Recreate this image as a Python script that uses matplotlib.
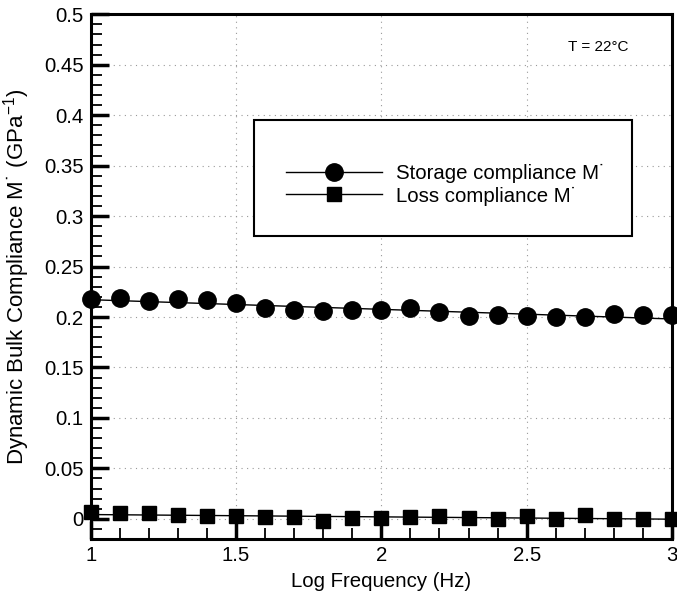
import numpy as np
import matplotlib
matplotlib.use("Agg")
import matplotlib.pyplot as plt
from matplotlib.patches import Rectangle
from matplotlib.ticker import MultipleLocator

plt.rcParams['font.family'] = ['Liberation Sans', 'DejaVu Sans']
plt.rcParams['mathtext.fontset'] = 'custom'
plt.rcParams['mathtext.rm'] = 'Liberation Sans'
plt.rcParams['mathtext.it'] = 'Liberation Sans'

log_freq = [1.0, 1.1, 1.2, 1.3, 1.4, 1.5, 1.6, 1.7, 1.8, 1.9, 2.0,
            2.1, 2.2, 2.3, 2.4, 2.5, 2.6, 2.7, 2.8, 2.9, 3.0]
storage = [0.2174, 0.2190, 0.2155, 0.2174, 0.2164, 0.2138, 0.2086, 0.2072,
           0.2063, 0.2066, 0.2069, 0.2089, 0.2049, 0.2007, 0.2023, 0.2010,
           0.2003, 0.1997, 0.2030, 0.2020, 0.2020]
loss = [0.0067, 0.0055, 0.0055, 0.0035, 0.0028, 0.0028, 0.0018, 0.0022,
        -0.0025, 0.0010, 0.0004, 0.0020, 0.0024, 0.0008, -0.0006, 0.0026,
        0.0003, 0.0038, 0.0002, 0.0001, -0.0002]

fig = plt.figure(figsize=(6.77, 5.96), dpi=100)
ax = fig.add_axes([0.134, 0.0956, 0.8586, 0.8804])

x = np.array(log_freq)
for vals, mk, ms, lab in [(storage, 'o', 12.5, "Storage compliance M\u02D9"),
                          (loss, 's', 10.5, "Loss compliance M\u02D9")]:
    c = np.polyfit(x, vals, 1)
    ax.plot(x, np.polyval(c, x), color='black', lw=1.0, zorder=2)
    ax.plot(x, vals, linestyle='none', marker=mk, ms=ms, color='black',
            zorder=3, clip_on=False)
    ax.plot([], [], color='black', lw=1.0, marker=mk, ms=ms, label=lab)

ax.set_xlim(1, 3)
ax.set_ylim(-0.02, 0.5)
ax.xaxis.set_minor_locator(MultipleLocator(0.1))
ax.yaxis.set_minor_locator(MultipleLocator(0.01))
ax.set_xticks([1, 1.5, 2, 2.5, 3])
ax.set_xticklabels(['1', '1.5', '2', '2.5', '3'])
ax.set_yticks(np.arange(0, 0.501, 0.05))
ax.set_yticklabels(['0', '0.05', '0.1', '0.15', '0.2', '0.25', '0.3', '0.35',
                    '0.4', '0.45', '0.5'])

ax.tick_params(which='major', direction='in', length=13, width=2.5,
               labelsize=14.7, top=False, right=False)
ax.tick_params(axis='y', which='major', pad=5)
ax.tick_params(axis='x', which='major', pad=5)
ax.tick_params(which='minor', direction='in', length=8, width=1.3,
               top=False, right=False)
for s in ax.spines.values():
    s.set_linewidth(2.2)

ax.grid(True, which='major', linestyle=(0, (1, 4)), color='#999999', lw=0.8)

ax.set_xlabel('Log Frequency (Hz)', fontsize=14.7, labelpad=5)
ax.set_ylabel("Dynamic Bulk Compliance M\u02D9 (GPa$^{-1}$)", fontsize=16,
              labelpad=9)

ax.text(0.874, 0.938, 'T = 22°C', transform=ax.transAxes, fontsize=11,
        ha='center', va='center')

rect = Rectangle((0.281, 0.577), 0.6505, 0.221, transform=ax.transAxes,
                 facecolor='white', edgecolor='black', lw=1.5, zorder=4)
ax.add_patch(rect)
leg = ax.legend(loc='upper left', bbox_to_anchor=(0.336, 0.714),
                frameon=False, fontsize=14.7, handlelength=4.7,
                handletextpad=0.7, labelspacing=0.15, borderpad=0,
                borderaxespad=0)
leg.set_zorder(5)

fig.savefig('out.png', dpi=100)
